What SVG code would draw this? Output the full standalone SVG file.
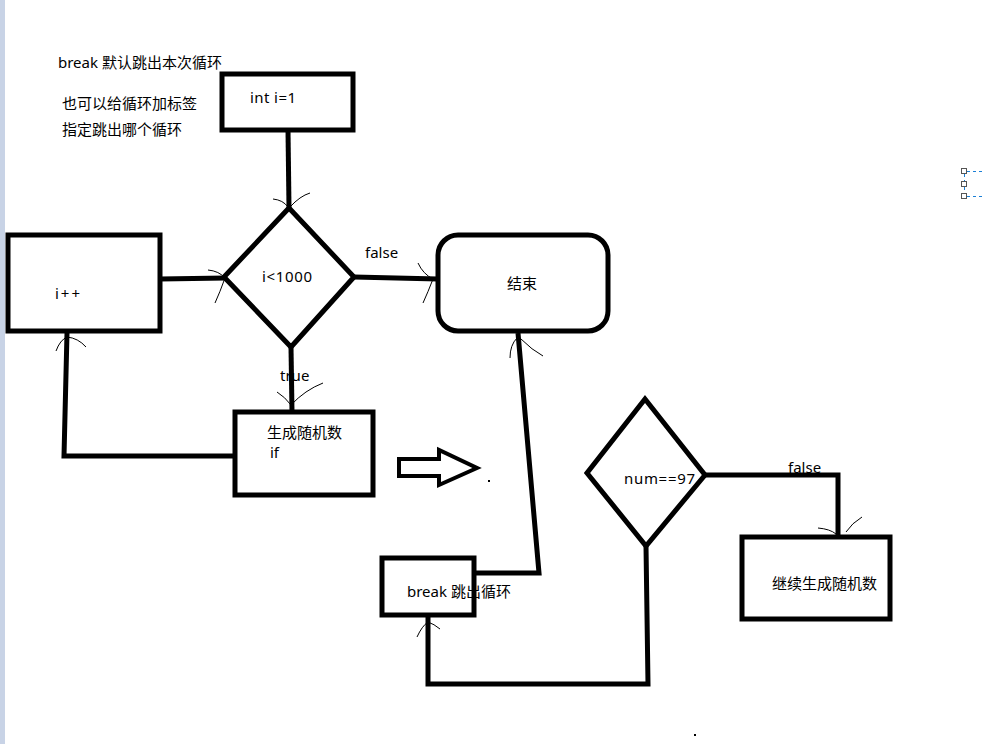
<svg xmlns="http://www.w3.org/2000/svg" width="983" height="744" viewBox="0 0 983 744">
<style>
.shape{fill:none;stroke:#000;stroke-width:5;stroke-linejoin:miter}
.conn{fill:none;stroke:#000;stroke-width:5}
.tick{fill:none;stroke:#000;stroke-width:1}
.t{font-family:"Noto Sans","Noto Sans CJK SC",sans-serif;font-size:15px;fill:#000}
.h{fill:#fff;stroke:#555;stroke-width:1}
.d{fill:none;stroke:#1a7fd6;stroke-width:1;stroke-dasharray:3,3}
</style>
<rect x="0" y="0" width="983" height="744" fill="#fff"/>
<rect x="0" y="0" width="5" height="744" fill="#c8d3e6"/>
<g id="notes">
<text class="t" x="58" y="68">break 默认跳出本次循环</text>
<text class="t" x="62" y="109">也可以给循环加标签</text>
<text class="t" x="62" y="135">指定跳出哪个循环</text>
</g>
<g id="connectors">
<path class="conn" d="M288 130 L289 208"/>
<path class="conn" d="M160 279 L226 278"/>
<path class="conn" d="M354 277 L438 279"/>
<path class="conn" d="M291 347 L292 412"/>
<path class="conn" d="M235 456 L64 456 L67 333"/>
<path class="conn" d="M518 333 L539 573 L474 573"/>
<path class="conn" d="M646 546 L648 684 L428 684 L428 617"/>
<path class="conn" d="M705 475 L838 475 L838 537"/>
<path class="tick" d="M273 199 Q283 200 288 207 M290 207 Q300 196 310 193"/>
<path class="tick" d="M208 270 Q219 271 225 278 Q220 292 215 303"/>
<path class="tick" d="M418 263 Q423 274 433 279 Q428 292 423 303"/>
<path class="tick" d="M517 338 Q510 345 510 358 M521 339 Q532 350 543 356"/>
<path class="tick" d="M56 351 Q60 340 67 337 Q78 338 86 347"/>
<path class="tick" d="M277 392 Q285 397 291 405 Q305 390 323 383"/>
<path class="tick" d="M417 637 Q422 626 428 622 Q434 624 440 629"/>
<path class="tick" d="M818 528 Q830 529 836 534 M846 532 Q852 523 862 517"/>
<text class="t" x="365" y="258">false</text>
<text class="t" x="280" y="381">true</text>
<text class="t" x="788" y="473">false</text>
</g>
<g id="n-init">
<rect class="shape" x="222" y="74" width="131" height="56"/>
<text class="t" x="250" y="103" textLength="46">int i=1</text>
</g>
<g id="n-cond">
<polygon class="shape" points="289,208 354,277 291,347 224,277"/>
<text class="t" x="262" y="282" textLength="50">i&lt;1000</text>
</g>
<g id="n-inc">
<rect class="shape" x="8" y="235" width="152" height="96"/>
<text class="t" x="55" y="299" textLength="25">i++</text>
</g>
<g id="n-end">
<rect class="shape" x="438" y="235" width="170" height="96" rx="20" ry="20"/>
<text class="t" x="507" y="289">结束</text>
</g>
<g id="n-rand">
<rect class="shape" x="235" y="412" width="138" height="83"/>
<text class="t" x="267" y="438">生成随机数</text>
<text class="t" x="270" y="458">if</text>
</g>
<g id="n-arrow">
<polygon points="399,459 439,459 439,450 477,468 439,485 439,476 399,476" fill="none" stroke="#000" stroke-width="4"/>
<rect x="488" y="480" width="2" height="2" fill="#000"/>
</g>
<g id="n-num">
<polygon class="shape" points="645,399 705,475 646,546 587,473"/>
<text class="t" x="624" y="484" textLength="71">num==97</text>
</g>
<g id="n-break">
<rect class="shape" x="382" y="558" width="92" height="57"/>
<text class="t" x="407" y="597">break 跳出循环</text>
</g>
<g id="n-cont">
<rect class="shape" x="742" y="537" width="148" height="82"/>
<text class="t" x="772" y="589">继续生成随机数</text>
</g>
<g id="handles">
<path class="d" d="M967 171.5 L983 171.5 M967 196.5 L983 196.5 M964.5 174 L964.5 181 M964.5 187 L964.5 193"/>
<rect class="h" x="961.5" y="168.5" width="5" height="5"/>
<rect class="h" x="961.5" y="181.5" width="5" height="5"/>
<rect class="h" x="961.5" y="193.5" width="5" height="5"/>
<rect x="694" y="734" width="2" height="2" fill="#000"/>
</g>
</svg>
